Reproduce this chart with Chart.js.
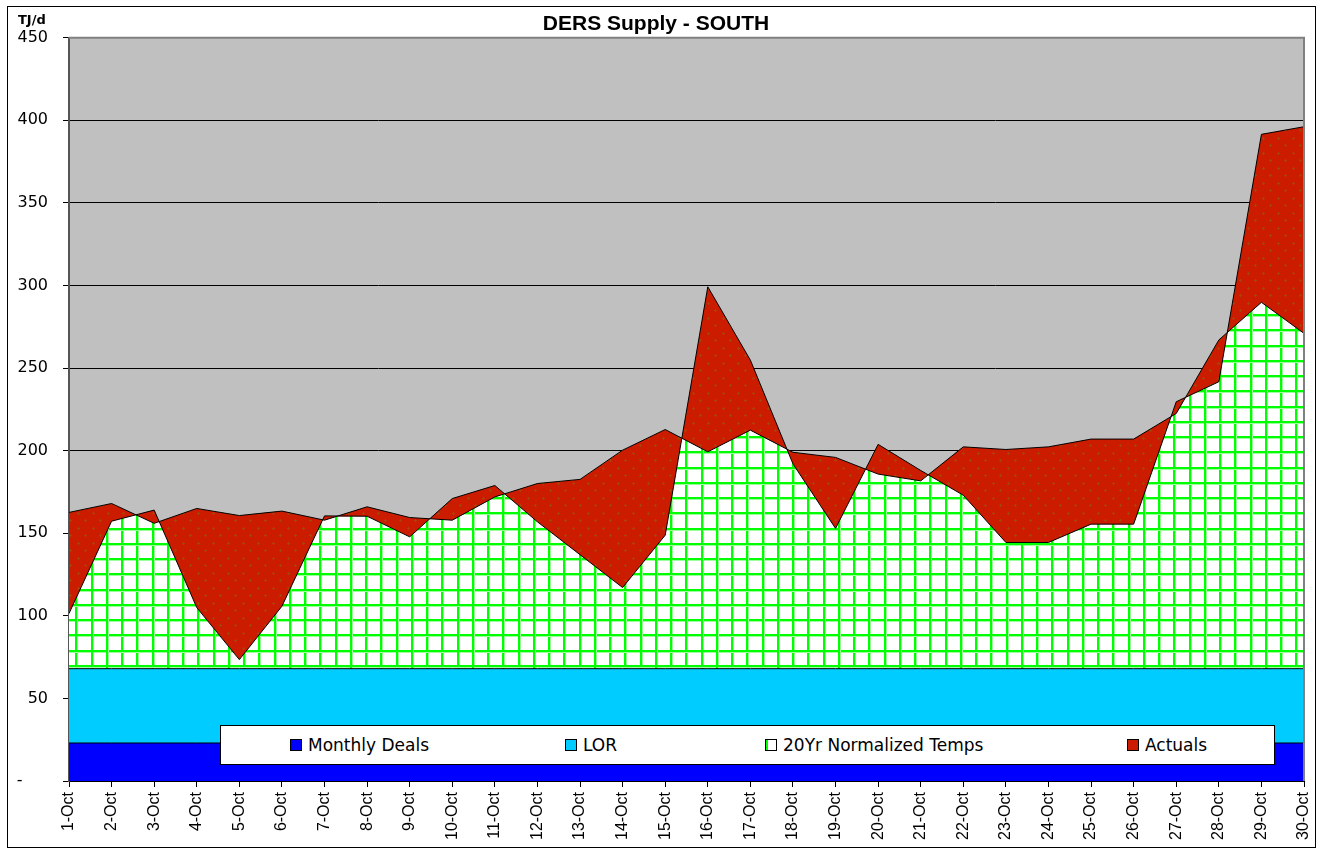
<!DOCTYPE html>
<html>
<head>
<meta charset="utf-8">
<title>DERS Supply - SOUTH</title>
<script src="https://cdn.jsdelivr.net/npm/chart.js@4.4.1/dist/chart.umd.min.js"></script>
<style>
    body { margin: 0; background: #fff; }
    #wrap { position: relative; width: 1320px; height: 850px; }
    #unitLabel {
        position: absolute; left: 18px; top: 13px;
        font: bold 13px 'DejaVu Sans'; line-height: 13px; color: #000;
    }
    #legendBox {
        position: absolute; left: 220px; top: 725px; width: 1055px; height: 40px;
        box-sizing: border-box; background: #fff; border: 1px solid #000;
        font-family: 'DejaVu Sans'; font-size: 17px; color: #000;
    }
    .legend-item { position: absolute; top: 0; height: 100%; display: flex; align-items: center; white-space: nowrap; }
    .swatch { width: 12px; height: 12px; box-sizing: border-box; border: 1px solid #000; margin-right: 6px; }
</style>
</head>
<body>
<div id="wrap">
    <canvas id="dersSupplyChart"></canvas>
    <div id="unitLabel">TJ/d</div>
    <div id="legendBox"></div>
</div>
<script>
/**
 * Days on the x axis
 */
const DAY_LABELS = ['1-Oct', '2-Oct', '3-Oct', '4-Oct', '5-Oct', '6-Oct', '7-Oct', '8-Oct', '9-Oct', '10-Oct',
                    '11-Oct', '12-Oct', '13-Oct', '14-Oct', '15-Oct', '16-Oct', '17-Oct', '18-Oct', '19-Oct', '20-Oct',
                    '21-Oct', '22-Oct', '23-Oct', '24-Oct', '25-Oct', '26-Oct', '27-Oct', '28-Oct', '29-Oct', '30-Oct'];

/**
 * Series (TJ/d)
 */
const MONTHLY_DEALS = [23, 23, 23, 23, 23, 23, 23, 23, 23, 23, 23, 23, 23, 23, 23,
                       23, 23, 23, 23, 23, 23, 23, 23, 23, 23, 23, 23, 23, 23, 23];
const LOR = [45, 45, 45, 45, 45, 45, 45, 45, 45, 45, 45, 45, 45, 45, 45,
             45, 45, 45, 45, 45, 45, 45, 45, 45, 45, 45, 45, 45, 45, 45];
const NORMALIZED_TEMPS = [162.6, 168, 156, 165, 160.7, 163.4, 157.9, 166, 159.5, 157.9,
                          172, 180.1, 182.6, 200.3, 212.8, 199.3, 212.4, 199, 195.9, 185.8,
                          181.7, 202.3, 200.7, 202.3, 207, 207, 222.5, 267, 289.8, 271];
const ACTUALS = [101.4, 157.3, 164, 105, 73.5, 105.8, 160.5, 160.3, 147.8, 171,
                 178.9, 156.9, 137, 117.1, 148.8, 299.2, 254.8, 192, 152.9, 203.8,
                 188, 173, 144.4, 144.4, 155.5, 155.5, 229.6, 241.7, 391.5, 396.1];

/**
 * Y axis
 */
const Y_MAX = 450;
const Y_STEP = 50;
const ZERO_LABEL = '-';

/**
 * Legend item offsets inside the legend box (px)
 */
const LEGEND_OFFSETS = [69, 344, 544, 906];

/**
 * White cells with green lines (20Yr Normalized Temps)
 */
function makeGridPattern() {
    const tile = document.createElement('canvas');
    tile.width = 61;
    tile.height = 61;
    const g = tile.getContext('2d');
    g.fillStyle = '#FFFFFF';
    g.fillRect(0, 0, 61, 61);
    [0, 15, 31, 46].forEach(p => {
        g.fillStyle = '#9CFF9C';
        g.fillRect(p + 2, 0, 1, 61);
        g.fillRect(0, p + 2, 61, 1);
        g.fillStyle = '#00FF00';
        g.fillRect(p, 0, 2, 61);
        g.fillRect(0, p, 61, 2);
    });
    const pattern = g.createPattern(tile, 'repeat');
    pattern.setTransform(new DOMMatrix([1, 0, 0, 1, -1, 9]));
    return pattern;
}

/**
 * Red with small dots (Actuals)
 */
function makeDotPattern() {
    const tile = document.createElement('canvas');
    tile.width = 15;
    tile.height = 15;
    const g = tile.getContext('2d');
    g.fillStyle = '#CC1C00';
    g.fillRect(0, 0, 15, 15);
    g.fillStyle = '#A8440A';
    [[3, 3], [10, 10]].forEach(([x, y]) => {
        g.fillRect(x - 1, y, 3, 1);
        g.fillRect(x, y - 1, 1, 3);
    });
    return g.createPattern(tile, 'repeat');
}

/**
 * Page frame, gray plot background and plot border
 */
const backdropPlugin = {
    id: 'backdrop',
    beforeDraw(chart) {
        const { ctx, chartArea } = chart;
        ctx.save();
        ctx.fillStyle = '#FFFFFF';
        ctx.fillRect(0, 0, chart.width, chart.height);
        ctx.strokeStyle = '#000';
        ctx.lineWidth = 1;
        ctx.strokeRect(7.5, 6.5, 1308, 841);
        ctx.fillStyle = '#C0C0C0';
        ctx.fillRect(chartArea.left, chartArea.top, chartArea.right - chartArea.left, chartArea.bottom - chartArea.top);
        ctx.restore();
    },
    afterDatasetsDraw(chart) {
        const { ctx, chartArea } = chart;
        ctx.save();
        ctx.strokeStyle = '#808080';
        ctx.lineWidth = 2;
        ctx.beginPath();
        ctx.moveTo(chartArea.left, chartArea.top);
        ctx.lineTo(chartArea.right, chartArea.top);
        ctx.lineTo(chartArea.right, chartArea.bottom);
        ctx.stroke();
        ctx.restore();
    }
};

/**
 * HTML legend placed over the bottom of the plot
 */
function renderLegend(chart) {
    const box = document.getElementById('legendBox');
    chart.data.datasets.forEach((ds, idx) => {
        const item = document.createElement('div');
        item.className = 'legend-item';
        item.style.left = LEGEND_OFFSETS[idx] + 'px';
        const swatch = document.createElement('span');
        swatch.className = 'swatch';
        swatch.style.cssText = ds.swatch;
        const text = document.createElement('span');
        text.textContent = ds.label;
        item.appendChild(swatch);
        item.appendChild(text);
        box.appendChild(item);
    });
}

const lorTop = LOR.map((v, i) => v + MONTHLY_DEALS[i]);
const gridPattern = makeGridPattern();
const dotPattern = makeDotPattern();

const lineBase = { borderColor: '#000000', borderWidth: 1, pointRadius: 0, tension: 0 };

const chart = new Chart(document.getElementById('dersSupplyChart'), {
    type: 'line',
    data: {
        labels: DAY_LABELS,
        datasets: [
            { ...lineBase, label: 'Monthly Deals', data: MONTHLY_DEALS, backgroundColor: '#0000FF', fill: 'origin', order: 1,
              swatch: 'background:#0000FF' },
            { ...lineBase, label: 'LOR', data: lorTop, backgroundColor: '#00CCFF', fill: 0, order: 1,
              swatch: 'background:#00CCFF' },
            { ...lineBase, label: '20Yr Normalized Temps', data: NORMALIZED_TEMPS, backgroundColor: gridPattern, fill: 1, order: 1,
              swatch: 'background:#FFFFFF;box-shadow:inset 2px 0 0 #00FF00' },
            { ...lineBase, label: 'Actuals', data: ACTUALS, backgroundColor: dotPattern, fill: 2, order: 0,
              swatch: 'background:#CC1C00' }
        ]
    },
    options: {
        responsive: true,
        maintainAspectRatio: false,
        animation: false,
        events: [],
        layout: { padding: { left: 8, right: 16, top: 0, bottom: 0 } },
        plugins: {
            legend: { display: false },
            tooltip: { enabled: false },
            filler: { drawTime: 'beforeDatasetsDraw' },
            title: {
                display: true,
                text: 'DERS Supply - SOUTH',
                color: '#000',
                font: { family: 'Liberation Sans', size: 21, weight: 'bold' },
                padding: { top: 12, bottom: 0.5 }
            }
        },
        scales: {
            x: {
                offset: false,
                ticks: {
                    autoSkip: false,
                    maxRotation: 90,
                    minRotation: 90,
                    padding: 5,
                    color: '#000',
                    font: { family: 'Liberation Sans', size: 16 }
                },
                grid: { drawOnChartArea: false, drawTicks: true, tickLength: 6, color: '#000' },
                border: { color: '#000', width: 1 },
                afterFit: scale => {
                    scale.height = 69;
                    scale.paddingLeft = 0;
                    scale.paddingRight = 0;
                }
            },
            y: {
                min: 0,
                max: Y_MAX,
                ticks: {
                    stepSize: Y_STEP,
                    padding: 15,
                    color: '#000',
                    font: { family: 'DejaVu Sans', size: 16 },
                    callback: value => value === 0 ? ZERO_LABEL + '     ' : value
                },
                grid: { color: '#000', lineWidth: 1, tickLength: 6 },
                border: { color: '#555', width: 2 },
                afterFit: scale => { scale.width = 61; }
            }
        }
    },
    plugins: [backdropPlugin]
});

renderLegend(chart);
</script>
</body>
</html>
